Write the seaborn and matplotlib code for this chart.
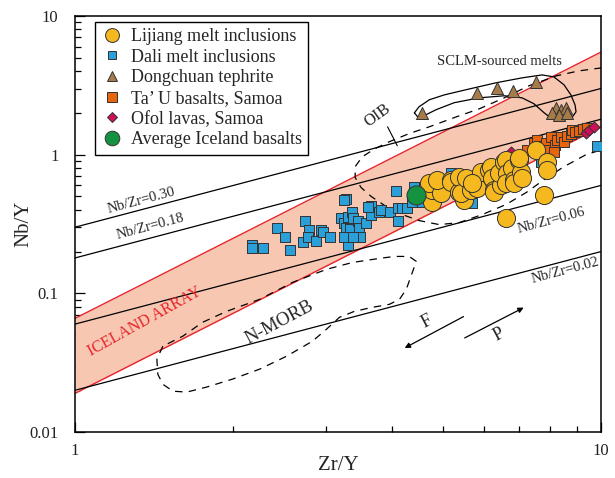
import numpy as np
import pandas as pd
import matplotlib
matplotlib.use("Agg")
import matplotlib.pyplot as plt
import seaborn as sns
from matplotlib.lines import Line2D
from matplotlib.ticker import NullFormatter, FixedLocator, FixedFormatter, LogLocator

sns.set_theme(style="white")
plt.rcParams["font.family"] = ["Liberation Serif", "DejaVu Serif"]

# ---------------- data (Zr/Y, Nb/Y) ----------------
lijiang_zr_y = [4.78, 4.78, 4.72, 4.97, 4.89, 5.19, 5.19, 5.38, 5.38, 5.50, 5.43, 5.54, 5.67,
                5.82, 5.92, 6.13, 6.18, 6.21, 6.27, 6.27, 6.46, 6.41, 6.55, 6.60, 6.63, 6.60,
                6.78, 6.84, 6.84, 6.99, 7.05, 7.08, 7.53, 7.90, 7.90, 7.80, 6.60, 6.99, 5.69]
lijiang_nb_y = [0.459, 0.560, 0.629, 0.533, 0.661, 0.661, 0.639, 0.542, 0.695, 0.475, 0.533, 0.684, 0.560,
                0.579, 0.755, 0.780, 0.820, 0.684, 0.560, 0.542, 0.608, 0.742, 0.891, 0.921, 0.742, 0.629,
                0.806, 0.661, 0.629, 0.921, 0.755, 0.684, 1.086, 0.891, 0.780, 0.515, 0.352, 0.951, 0.629]

dali_zr_y = [2.17, 2.17, 2.28, 2.42, 2.51, 2.56, 2.74, 2.78, 2.71, 2.77, 2.87, 2.94, 2.96, 3.06,
             3.27, 3.21, 3.25, 3.30, 3.37, 3.38, 3.28, 3.34, 3.46, 3.47, 3.57, 3.49, 3.31, 3.25,
             3.38, 3.66, 3.66, 3.79, 3.82, 3.98, 4.08, 4.12, 4.12, 4.19, 4.28, 4.42, 4.51, 4.38,
             5.19, 5.69, 7.69, 9.83, 3.25, 3.60]
dali_nb_y = [0.225, 0.214, 0.214, 0.294, 0.257, 0.207, 0.330, 0.284, 0.233, 0.257, 0.237, 0.284, 0.279, 0.257,
             0.482, 0.352, 0.324, 0.358, 0.389, 0.352, 0.298, 0.289, 0.330, 0.298, 0.324, 0.257, 0.225, 0.257,
             0.257, 0.423, 0.370, 0.389, 0.402, 0.383, 0.551, 0.330, 0.416, 0.416, 0.416, 0.589, 0.459, 0.459,
             0.742, 0.451, 0.891, 1.16, 0.475, 0.420]

dongchuan_zr_y = [4.57, 5.82, 6.35, 6.81, 7.53, 8.22, 8.40, 8.58, 8.07, 8.32, 8.62]
dongchuan_nb_y = [2.01, 2.79, 3.03, 2.89, 3.35, 2.18, 2.11, 2.18, 2.01, 1.94, 2.01]

tau_zr_y = [7.24, 7.46, 7.56, 7.69, 7.87, 7.94, 8.04, 8.18, 8.25, 8.40, 8.51, 8.62, 8.77, 8.81,
            8.93, 9.08, 9.24, 9.40, 8.14]
tau_nb_y = [1.086, 1.22, 1.28, 1.16, 1.22, 1.086, 1.35, 1.18, 1.28, 1.35, 1.24, 1.37, 1.42, 1.51,
            1.46, 1.49, 1.54, 1.56, 1.05]

ofol_zr_y = [6.75, 9.37, 9.49, 9.70]
ofol_nb_y = [1.05, 1.44, 1.51, 1.59]

iceland_avg_zr_y = [4.46]
iceland_avg_nb_y = [0.515]

# reference lines
nb_zr_ratios = [0.30, 0.18, 0.06, 0.02]
nb_zr_labels = ["Nb/Zr=0.30", "Nb/Zr=0.18", "Nb/Zr=0.06", "Nb/Zr=0.02"]
iceland_slope = 1.92
iceland_intercepts = [0.0190, 0.066]   # Nb/Y at Zr/Y = 1 (lower, upper)

# field outlines
oib_zr_y = [10.04, 9.08, 8.22, 7.30, 6.55, 5.87, 5.26, 4.72, 4.32, 3.96, 3.71, 3.52, 3.41, 3.41,
            3.50, 3.66, 3.88, 4.14, 4.51, 4.93, 5.38, 5.95, 6.60, 7.21, 7.80, 8.51, 9.37, 10.04]
oib_nb_y = [4.23, 4.02, 3.70, 3.14, 2.57, 2.14, 1.85, 1.59, 1.42, 1.24, 1.10, 0.967, 0.820, 0.684,
            0.579, 0.499, 0.430, 0.376, 0.335, 0.313, 0.324, 0.370, 0.437, 0.533, 0.661, 0.820, 1.0, 1.086]

nmorb_zr_y = [1.469, 1.431, 1.437, 1.469, 1.535, 1.631, 1.780, 1.995, 2.244, 2.525, 2.829, 3.007, 3.184,
              3.400, 3.678, 3.960, 4.14, 4.266, 4.38, 4.457, 4.32, 4.05, 3.79, 3.37, 3.007, 2.593, 2.244,
              1.943, 1.749, 1.603, 1.469]
nmorb_nb_y = [0.0416, 0.0335, 0.0261, 0.0221, 0.0197, 0.0194, 0.0211, 0.0241, 0.0284, 0.0352, 0.0452,
              0.0551, 0.0672, 0.0742, 0.0793, 0.0833, 0.0905, 0.107, 0.1416, 0.170, 0.1846, 0.1846,
              0.1786, 0.167, 0.149, 0.120, 0.0905, 0.0742, 0.0619, 0.0491, 0.0416]

sclm_zr_y = [4.42, 4.51, 4.72, 5.04, 5.54, 6.32, 7.08, 7.73, 8.14, 8.51, 8.77, 8.93, 8.97, 8.81, 8.43,
             8.07, 7.80, 7.46, 7.08, 6.55, 5.87, 5.26, 4.86, 4.61, 4.48, 4.42]
sclm_nb_y = [2.005, 2.215, 2.49, 2.70, 2.94, 3.30, 3.58, 3.76, 3.64, 3.19, 2.70, 2.29, 2.04, 1.85, 1.76,
             1.815, 2.005, 2.33, 2.57, 2.66, 2.57, 2.37, 2.11, 1.91, 1.88, 2.005]

# ---------------- styling ----------------
C_YEL = "#F5B81F"
C_BLU = "#2A9FD8"
C_BRN = "#A67B4A"
C_ORG = "#E8650F"
C_CRM = "#CF1059"
C_GRN = "#14923F"
C_RED = "#E8242B"
C_FILL = "#F7C7B2"
EDGE = "#333333"

fig = plt.figure(figsize=(6.15, 4.78), dpi=100)
ax = fig.add_axes([0.122, 0.0962, 0.855, 0.8703])
ax.set_xscale("log")
ax.set_yscale("log")
ax.set_xlim(1, 10)
ax.set_ylim(0.01, 10)

# Iceland array band
xl = np.array([1.0, 10.0])
low = iceland_intercepts[0] * xl ** iceland_slope
up = iceland_intercepts[1] * xl ** iceland_slope
ax.fill_between(xl, low, up, color=C_FILL, lw=0, zorder=1)
ax.plot(xl, low, color=C_RED, lw=1.0, zorder=2)
ax.plot(xl, up, color=C_RED, lw=1.0, zorder=2)

# Nb/Zr lines
for r in nb_zr_ratios:
    ax.plot(xl, r * xl, color="black", lw=0.9, zorder=3)

# fields
ax.plot(oib_zr_y, oib_nb_y, color="black", lw=0.9, ls=(0, (6, 5)), zorder=3)
ax.plot(nmorb_zr_y, nmorb_nb_y, color="black", lw=0.9, ls=(0, (6, 5)), zorder=3)
ax.plot(sclm_zr_y, sclm_nb_y, color="black", lw=0.9, zorder=3)

# points
def scat(xv, yv, marker, color, s, z):
    df = pd.DataFrame({"x": xv, "y": yv})
    sns.scatterplot(data=df, x="x", y="y", marker=marker, color=color, s=s,
                    edgecolor=EDGE, linewidth=0.7, ax=ax, zorder=z, legend=False)

scat(dali_zr_y, dali_nb_y, "s", C_BLU, 48, 5)
scat(tau_zr_y, tau_nb_y, "s", C_ORG, 50, 5)
scat(ofol_zr_y, ofol_nb_y, "D", C_CRM, 32, 5)
scat(lijiang_zr_y, lijiang_nb_y, "o", C_YEL, 170, 6)
scat(iceland_avg_zr_y, iceland_avg_nb_y, "o", C_GRN, 190, 7)
scat(dongchuan_zr_y, dongchuan_nb_y, "^", C_BRN, 75, 7)

# labels
tk = dict(fontsize=10.5, ha="center", va="center", rotation_mode="anchor", zorder=8)
ax.text(1.34, 0.467, nb_zr_labels[0], rotation=15, **tk)
ax.text(1.39, 0.303, nb_zr_labels[1], rotation=15, **tk)
ax.text(8.04, 0.335, nb_zr_labels[2], rotation=15, **tk)
ax.text(8.55, 0.146, nb_zr_labels[3], rotation=15, **tk)
ax.text(6.41, 4.67, "SCLM-sourced melts", fontsize=10.5, ha="center", va="center")
ax.text(3.76, 1.91, "OIB", rotation=36, fontsize=12, ha="center", va="center", rotation_mode="anchor")
ax.plot([3.93, 4.10], [1.59, 1.16], color="black", lw=0.8, zorder=3)
ax.text(1.358, 0.0629, "ICELAND ARRAY", rotation=29, fontsize=11.5, color=C_RED,
        ha="center", va="center", rotation_mode="anchor")
ax.text(2.449, 0.0619, "N-MORB", rotation=28, fontsize=13.5, ha="center", va="center",
        rotation_mode="anchor")
ax.text(4.677, 0.0629, "F", rotation=28, fontsize=13, ha="center", va="center", rotation_mode="anchor")
ax.text(6.41, 0.0507, "P", rotation=28, fontsize=13, ha="center", va="center", rotation_mode="anchor")
ax.annotate("", xy=(4.19, 0.0395), xytext=(5.54, 0.0695),
            arrowprops=dict(arrowstyle="-|>", color="black", lw=0.9, mutation_scale=8))
ax.annotate("", xy=(7.21, 0.0806), xytext=(5.45, 0.0467),
            arrowprops=dict(arrowstyle="-|>", color="black", lw=0.9, mutation_scale=8))

# axes, ticks
ax.xaxis.set_major_locator(FixedLocator([1, 10]))
ax.xaxis.set_major_formatter(FixedFormatter(["1", "10"]))
ax.xaxis.set_minor_locator(LogLocator(base=10, subs=np.arange(2, 10)))
ax.xaxis.set_minor_formatter(NullFormatter())
ax.yaxis.set_major_locator(FixedLocator([0.01, 0.1, 1, 10]))
ax.yaxis.set_major_formatter(FixedFormatter(["0.01", "0.1", "1", "10"]))
ax.yaxis.set_minor_locator(LogLocator(base=10, subs=np.arange(2, 10)))
ax.yaxis.set_minor_formatter(NullFormatter())
ax.tick_params(which="both", direction="in", top=False, right=False, bottom=True, left=True,
               color="black", width=0.9, labelsize=12, labelcolor="#222222")
ax.tick_params(which="major", length=7)
ax.tick_params(which="minor", length=4.5)
ax.tick_params(axis="y", which="major", pad=12)
ax.tick_params(axis="x", which="major", pad=8)
for sp in ax.spines.values():
    sp.set_color("black")
    sp.set_linewidth(1.1)
ax.set_xlabel("Zr/Y", fontsize=15, labelpad=-2)
ax.set_ylabel("Nb/Y", fontsize=15, labelpad=-3)

# legend
handles = [
    Line2D([], [], ls="", marker="o", ms=10, mfc=C_YEL, mec=EDGE, mew=0.7),
    Line2D([], [], ls="", marker="s", ms=6, mfc=C_BLU, mec=EDGE, mew=0.7),
    Line2D([], [], ls="", marker="^", ms=7, mfc=C_BRN, mec=EDGE, mew=0.7),
    Line2D([], [], ls="", marker="s", ms=6.5, mfc=C_ORG, mec=EDGE, mew=0.7),
    Line2D([], [], ls="", marker="D", ms=5.5, mfc=C_CRM, mec=EDGE, mew=0.7),
    Line2D([], [], ls="", marker="o", ms=10.5, mfc=C_GRN, mec=EDGE, mew=0.7),
]
labels = ["Lijiang melt inclusions", "Dali melt inclusions", "Dongchuan tephrite",
          "Ta\u2019 U basalts, Samoa", "Ofol lavas, Samoa", "Average Iceland basalts"]
leg = ax.legend(handles, labels, loc="upper left", bbox_to_anchor=(0.038, 0.986),
                borderaxespad=0, frameon=True, fancybox=False, edgecolor="black",
                fontsize=13, labelspacing=0.2, handletextpad=0.45, handlelength=1.2,
                borderpad=0.35, framealpha=1)
leg.get_frame().set_linewidth(1.0)
leg.set_zorder(10)

fig.savefig("out.png", dpi=100, facecolor="white")
